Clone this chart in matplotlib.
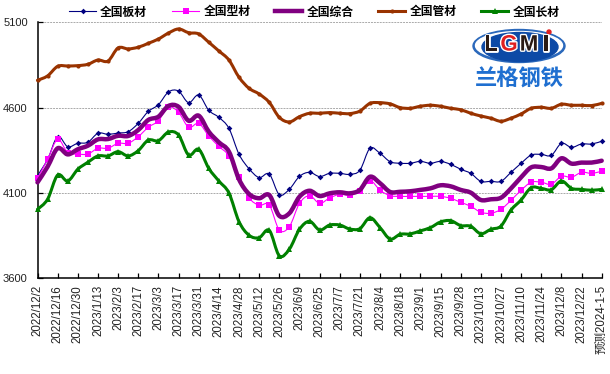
#!/usr/bin/python3

import numpy as np
import matplotlib
matplotlib.use("Agg")
import matplotlib.pyplot as plt
import matplotlib.patheffects as pe
from matplotlib.lines import Line2D
from matplotlib.patches import Ellipse, PathPatch
from matplotlib.path import Path

tickLabels = ["2022/12/2", "2022/12/16", "2022/12/30", "2023/1/13", "2023/2/3", "2023/2/17",
              "2023/3/3", "2023/3/17", "2023/3/31", "2023/4/14", "2023/4/28", "2023/5/12",
              "2023/5/26", "2023/6/9", "2023/6/25", "2023/7/7", "2023/7/21", "2023/8/4",
              "2023/8/18", "2023/9/1", "2023/9/15", "2023/9/28", "2023/10/13", "2023/10/27",
              "2023/11/10", "2023/11/24", "2023/12/8", "2023/12/22", "预测2024-1-5"]

sheet = [4201, 4297, 4430, 4371, 4391, 4397, 4450, 4444, 4451, 4459, 4508, 4578, 4617, 4692, 4697,
         4629, 4674, 4584, 4543, 4479, 4327, 4242, 4190, 4211, 4090, 4122, 4197, 4221, 4196, 4215,
         4215, 4209, 4233, 4362, 4332, 4283, 4274, 4274, 4285, 4274, 4285, 4268, 4239, 4215, 4168,
         4168, 4168, 4221, 4274, 4322, 4326, 4320, 4391, 4367, 4387, 4387, 4403]
section = [4186, 4297, 4414, 4336, 4328, 4328, 4362, 4362, 4391, 4391, 4430, 4485, 4523, 4603, 4573,
           4485, 4508, 4434, 4373, 4318, 4195, 4072, 4028, 4030, 3883, 3903, 4039, 4084, 4039, 4071,
           4092, 4086, 4110, 4172, 4116, 4084, 4080, 4080, 4080, 4080, 4080, 4069, 4045, 4022, 3987,
           3981, 4004, 4057, 4116, 4163, 4163, 4151, 4198, 4192, 4221, 4215, 4227]
composite = [4162, 4254, 4362, 4326, 4356, 4377, 4414, 4416, 4435, 4434, 4469, 4528, 4547, 4610, 4605,
             4523, 4553, 4459, 4397, 4342, 4180, 4094, 4069, 4088, 3966, 3981, 4078, 4113, 4082, 4098,
             4104, 4098, 4118, 4195, 4157, 4106, 4107, 4110, 4118, 4127, 4145, 4139, 4118, 4102, 4059,
             4063, 4072, 4127, 4192, 4250, 4252, 4244, 4303, 4272, 4278, 4278, 4289]
pipe = [4760, 4786, 4842, 4844, 4846, 4854, 4879, 4873, 4950, 4944, 4954, 4977, 5002, 5037, 5061,
        5039, 5032, 4983, 4932, 4879, 4778, 4713, 4680, 4631, 4543, 4516, 4547, 4567, 4567, 4571,
        4567, 4565, 4580, 4625, 4629, 4622, 4600, 4596, 4608, 4614, 4608, 4596, 4588, 4567, 4551,
        4538, 4520, 4538, 4563, 4596, 4602, 4596, 4620, 4614, 4614, 4612, 4625]
longSteel = [4004, 4063, 4205, 4170, 4239, 4280, 4317, 4317, 4342, 4317, 4348, 4410, 4406, 4457, 4440,
             4322, 4356, 4244, 4170, 4100, 3932, 3852, 3838, 3881, 3732, 3771, 3887, 3934, 3883, 3912,
             3912, 3889, 3891, 3955, 3897, 3830, 3858, 3860, 3878, 3897, 3930, 3938, 3909, 3905, 3861,
             3887, 3906, 4000, 4059, 4131, 4127, 4119, 4170, 4127, 4121, 4116, 4121]

seriesNames = ["全国板材", "全国型材", "全国综合", "全国管材", "全国长材"]
seriesData = [sheet, section, composite, pipe, longSteel]
seriesColors = ["#000080", "#FF00FF", "#800080", "#993300", "#008000"]
lineWidths = [0.8, 0.8, 3.2, 2.2, 2.2]
markers = ["D", "s", None, "o", "^"]
markerSizes = [2.9, 4.0, 0, 3.0, 4.0]

W, H = 610.0, 374.0
CJK = ["Noto Sans CJK SC", "DejaVu Sans"]
plt.rcParams["font.family"] = ["Liberation Sans", "Noto Sans CJK SC"]


def smoothPath(x, y):
    # same idea as the spreadsheet "smoothed line": bezier through every point
    pts = np.column_stack([x, y]).astype(float)
    verts = [pts[0]]
    codes = [Path.MOVETO]
    for i in range(len(pts) - 1):
        before = pts[max(i - 1, 0)]
        after = pts[min(i + 2, len(pts) - 1)]
        verts += [pts[i] + (pts[i + 1] - before) / 6, pts[i + 1] - (after - pts[i]) / 6, pts[i + 1]]
        codes += [Path.CURVE4] * 3
    return Path(verts, codes)


fig = plt.figure(figsize=(W / 100, H / 100), dpi=100, facecolor="white")
ax = fig.add_axes([37.5 / W, 1 - 278.3 / H, (601.7 - 37.5) / W, (278.3 - 22.3) / H])

xPos = np.arange(len(sheet))
handles = []
for name, data, col, lw, mk, ms in zip(seriesNames, seriesData, seriesColors, lineWidths, markers, markerSizes):
    ax.add_patch(PathPatch(smoothPath(xPos, data), fill=False, edgecolor=col, linewidth=lw,
                           capstyle="round", joinstyle="round", clip_on=False, zorder=3))
    if mk:
        ax.plot(xPos, data, linestyle="none", marker=mk, markersize=ms, markeredgewidth=0,
                color=col, clip_on=False, zorder=3)
    handles.append(Line2D([], [], color=col, linewidth=lw, marker=mk, markersize=ms,
                          markeredgewidth=0, label=name))

ax.set_xlim(0, 56)
ax.set_ylim(3600, 5100)
ax.set_yticks([3600, 4100, 4600, 5100])
ax.set_xticks(xPos[::2])
ax.set_xticklabels(tickLabels, rotation=90, fontsize=8.3, color="#222222")
ax.tick_params(axis="y", direction="in", length=3.5, width=0.9, labelsize=8, labelcolor="#222222", pad=7)
ax.tick_params(axis="x", direction="in", length=3.5, width=0.9, pad=5)
ax.grid(axis="y", color="#aaaaaa", linestyle=(0, (2, 1)), linewidth=0.7)
ax.set_axisbelow(True)
for side in ("top", "right"):
    ax.spines[side].set_visible(False)
for side in ("left", "bottom"):
    ax.spines[side].set_linewidth(1.1)

leg = fig.legend(handles=handles, ncols=5, frameon=False, loc="center left", numpoints=1,
                 bbox_to_anchor=(69 / W, 1 - 12 / H), borderpad=0, borderaxespad=0,
                 handlelength=2.3, handletextpad=0.35, columnspacing=2.1,
                 prop={"family": CJK, "size": 8.5, "weight": "bold"})

# logo, in picture pixels
logo = fig.add_axes([0, 0, 1, 1], facecolor="none")
logo.set_xlim(0, W)
logo.set_ylim(H, 0)
logo.axis("off")
logo.add_patch(Ellipse((519, 46), 92, 33, color="#2a68bb"))
logo.add_patch(Ellipse((519, 45.5), 87, 28, color="white"))
logo.add_patch(Ellipse((520, 47), 76, 29, color="#0d4aa6"))
outline = [pe.withStroke(linewidth=2, foreground="white")]
for ch, px, col in (("L", 491, "#2a1a14"), ("G", 509, "#e02020"), ("M", 529, "#2a1a14"), ("I", 546, "#2a1a14")):
    logo.text(px, 45, ch, color=col, fontsize=16, fontweight="bold", ha="center", va="center",
              path_effects=outline, family="Liberation Sans")
logo.add_patch(Ellipse((549, 32), 4, 4, color="#e02020"))
logo.text(519, 79, "兰格钢铁", color="#1f6fd0", fontsize=16, fontweight="bold", ha="center", va="center",
          family=CJK)

fig.savefig("out.png", dpi=100)
